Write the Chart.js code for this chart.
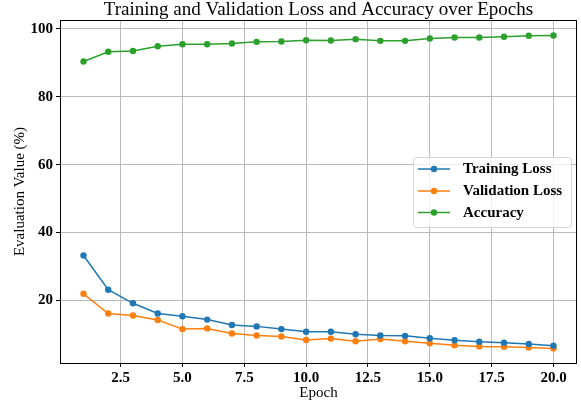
<!DOCTYPE html>
<html>
<head>
<meta charset="utf-8">
<script src="https://cdn.jsdelivr.net/npm/chart.js@4.4.1/dist/chart.umd.min.js"></script>
<style>
  html, body { margin: 0; padding: 0; background: #fff; }
  #wrap { width: 581px; height: 402px; position: relative; }
</style>
</head>
<body>
<div id="wrap"><canvas id="chart" width="581" height="402"></canvas></div>
<script>
  // ── Data ──────────────────────────────────────────
  const epochs = [1, 2, 3, 4, 5, 6, 7, 8, 9, 10, 11, 12, 13, 14, 15, 16, 17, 18, 19, 20];
  const trainingLoss = [33.2, 23.1, 19.1, 16.1, 15.3, 14.3, 12.7, 12.3, 11.5, 10.7, 10.7, 10.0, 9.6, 9.5, 8.8, 8.2, 7.8, 7.5, 7.1, 6.6];
  const validationLoss = [21.9, 16.1, 15.5, 14.2, 11.5, 11.7, 10.2, 9.6, 9.3, 8.3, 8.7, 7.9, 8.6, 7.9, 7.3, 6.7, 6.4, 6.3, 6.1, 5.8];
  const accuracy = [90.4, 93.3, 93.5, 94.9, 95.5, 95.5, 95.7, 96.2, 96.3, 96.7, 96.6, 97.0, 96.5, 96.5, 97.2, 97.5, 97.5, 97.7, 98.0, 98.1];
  const xTicks = [2.5, 5.0, 7.5, 10.0, 12.5, 15.0, 17.5, 20.0];
  const yTicks = [20, 40, 60, 80, 100];

  // ── Style ─────────────────────────────────────────
  const FONT = "'Liberation Serif', 'Times New Roman', serif";
  const GRID = "#b9b9b9";
  const C = { blue: "#1f77b4", orange: "#ff7f0e", green: "#2ca02c" };

  const series = (label, values, color) => ({
    label,
    data: values.map((v, i) => ({ x: epochs[i], y: v })),
    borderColor: color,
    backgroundColor: color,
    borderWidth: 1.5,
    pointRadius: 3.2,
    pointBorderWidth: 0,
    tension: 0
  });

  // frame + legend drawn on top like matplotlib
  const framePlugin = {
    id: "frame",
    afterDraw(chart) {
      const { ctx, chartArea: a } = chart;
      ctx.save();
      ctx.strokeStyle = "#000";
      ctx.lineWidth = 1;
      ctx.strokeRect(Math.round(a.left) + 0.5, Math.round(a.top) + 0.5,
        Math.round(a.right - a.left) - 1, Math.round(a.bottom - a.top));

      // legend box
      const bx = 413, by = 157, bw = 158, bh = 70, r = 3;
      ctx.beginPath();
      ctx.roundRect(bx + 0.5, by + 0.5, bw, bh, r);
      ctx.fillStyle = "rgba(255,255,255,0.8)";
      ctx.fill();
      ctx.strokeStyle = "#d6d6d6";
      ctx.stroke();

      const rows = [169, 191, 212.5];
      chart.data.datasets.forEach((ds, i) => {
        const y = rows[i];
        ctx.strokeStyle = ds.borderColor;
        ctx.lineWidth = 1.5;
        ctx.beginPath();
        ctx.moveTo(418, y);
        ctx.lineTo(450, y);
        ctx.stroke();
        ctx.fillStyle = ds.borderColor;
        ctx.beginPath();
        ctx.arc(434, y, 3.2, 0, Math.PI * 2);
        ctx.fill();
        ctx.fillStyle = "#000";
        ctx.font = "bold 15px " + FONT;
        ctx.textBaseline = "middle";
        ctx.textAlign = "left";
        ctx.fillText(ds.label, 463, y + 0.5);
      });
      ctx.restore();
    }
  };

  new Chart(document.getElementById("chart"), {
    type: "line",
    data: {
      datasets: [
        series("Training Loss", trainingLoss, C.blue),
        series("Validation Loss", validationLoss, C.orange),
        series("Accuracy", accuracy, C.green)
      ]
    },
    options: {
      responsive: false,
      animation: false,
      layout: { padding: { left: 0, right: 3, top: 0, bottom: 0 } },
      plugins: {
        legend: { display: false },
        tooltip: { enabled: false },
        title: {
          display: true,
          text: "Training and Validation Loss and Accuracy over Epochs",
          fullSize: false,
          color: "#000",
          font: { family: FONT, size: 19, weight: "normal", lineHeight: 1 },
          padding: { top: 1, bottom: 0 }
        }
      },
      scales: {
        x: {
          type: "linear",
          min: 0.05,
          max: 20.95,
          afterBuildTicks: (s) => { s.ticks = xTicks.map(v => ({ value: v })); },
          afterFit: (s) => { s.height = 39; },
          grid: { color: GRID, lineWidth: 1, tickColor: "#000", tickLength: 4 },
          border: { display: false },
          ticks: {
            color: "#000",
            autoSkip: false,
            maxRotation: 0,
            padding: 2,
            font: { family: FONT, size: 15, weight: "bold" },
            callback: (v) => Number(v).toFixed(1)
          },
          title: {
            display: true,
            text: "Epoch",
            color: "#000",
            font: { family: FONT, size: 15 },
            padding: { top: 2, bottom: 0 }
          }
        },
        y: {
          type: "linear",
          min: 1.5,
          max: 102.65,
          afterBuildTicks: (s) => { s.ticks = yTicks.map(v => ({ value: v })); },
          afterFit: (s) => { s.width = 60; },
          grid: { color: GRID, lineWidth: 1, tickColor: "#000", tickLength: 4 },
          border: { display: false },
          ticks: {
            color: "#000",
            padding: 3,
            font: { family: FONT, size: 15, weight: "bold" }
          },
          title: {
            display: true,
            text: "Evaluation Value (%)",
            color: "#000",
            font: { family: FONT, size: 15 },
            padding: { top: 11, bottom: 0 }
          }
        }
      }
    },
    plugins: [framePlugin]
  });
</script>
</body>
</html>
